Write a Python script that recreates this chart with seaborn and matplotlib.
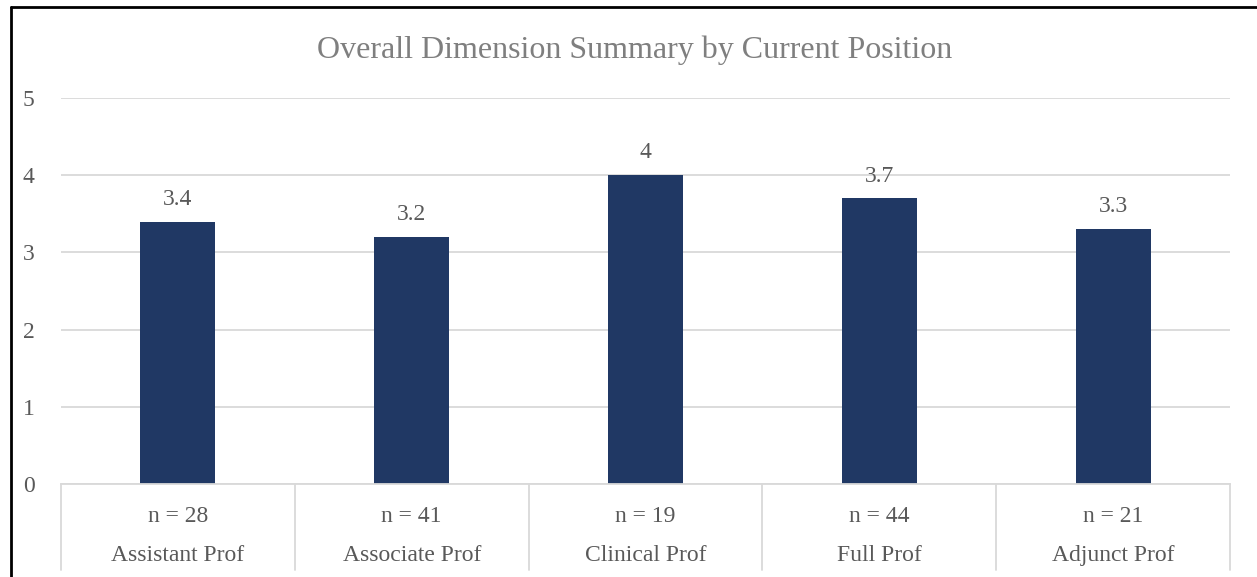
import pandas as pd
import matplotlib
matplotlib.use('Agg')
import matplotlib.pyplot as plt
import matplotlib.transforms as mtransforms
import seaborn as sns

# chart data
positions = ['Assistant Prof', 'Associate Prof', 'Clinical Prof', 'Full Prof', 'Adjunct Prof']
scores = [3.4, 3.2, 4.0, 3.7, 3.3]
n_counts = [28, 41, 19, 44, 21]
score_labels = ['3.4', '3.2', '4', '3.7', '3.3']

df = pd.DataFrame({'Position': positions, 'Score': scores})

sns.set_theme(style='white')
plt.rcParams['font.family'] = ['Liberation Serif', 'DejaVu Serif']

text_grey = '#595959'
grid_grey = '#D9D9D9'
bar_blue = '#203864'

W, H = 1257, 577
fig = plt.figure(figsize=(W / 100, H / 100), dpi=100)
ax = fig.add_axes([61 / W, 93 / H, (1230 - 61) / W, 386 / H])

sns.barplot(data=df, x='Position', y='Score', color=bar_blue, width=0.32,
            saturation=1, linewidth=0, ax=ax)

ax.set_ylim(0, 5)
ax.set_xlim(-0.5, len(positions) - 0.5)
ax.set_yticks([0, 1, 2, 3, 4, 5])
ax.set_yticklabels(['0', '1', '2', '3', '4', '5'])
ax.tick_params(axis='y', length=0, pad=19, labelsize=17, labelcolor=text_grey)
ax.set_xticks([])
ax.set_xlabel('')
ax.set_ylabel('')
for s in ['top', 'right', 'left']:
    ax.spines[s].set_visible(False)
ax.spines['bottom'].set_color(grid_grey)
ax.spines['bottom'].set_linewidth(1.3)
ax.yaxis.grid(True, color=grid_grey, linewidth=1.3)
ax.set_axisbelow(True)

# value labels on bars
for i, (v, lab) in enumerate(zip(scores, score_labels)):
    ax.annotate(lab, (i, v), xytext=(0, 8.5), textcoords='offset points',
                ha='center', va='bottom', fontsize=17, color=text_grey)

# category table below the axis
trans = mtransforms.blended_transform_factory(ax.transData, ax.transAxes)
for k in range(len(positions) + 1):
    ax.plot([k - 0.5, k - 0.5], [0, -0.223], color=grid_grey, linewidth=1.3,
            transform=trans, clip_on=False)
for i, (name, n) in enumerate(zip(positions, n_counts)):
    ax.text(i, -0.083, f'n = {n}', transform=trans, ha='center', va='center',
            fontsize=17, color=text_grey)
    ax.text(i, -0.184, name, transform=trans, ha='center', va='center',
            fontsize=17, color=text_grey)

fig.text(635 / W, 1 - 50 / H, 'Overall Dimension Summary by Current Position',
         ha='center', va='center', fontsize=23, color='#7F7F7F')

# outer chart border (top and left visible)
fig.add_artist(plt.Line2D([10.5 / W, 10.5 / W], [0, 1 - 7 / H], color='black',
                          linewidth=2, transform=fig.transFigure))
fig.add_artist(plt.Line2D([10.5 / W, 1], [1 - 7 / H, 1 - 7 / H], color='black',
                          linewidth=2, transform=fig.transFigure))

fig.savefig('out.png', dpi=100, facecolor='white')
